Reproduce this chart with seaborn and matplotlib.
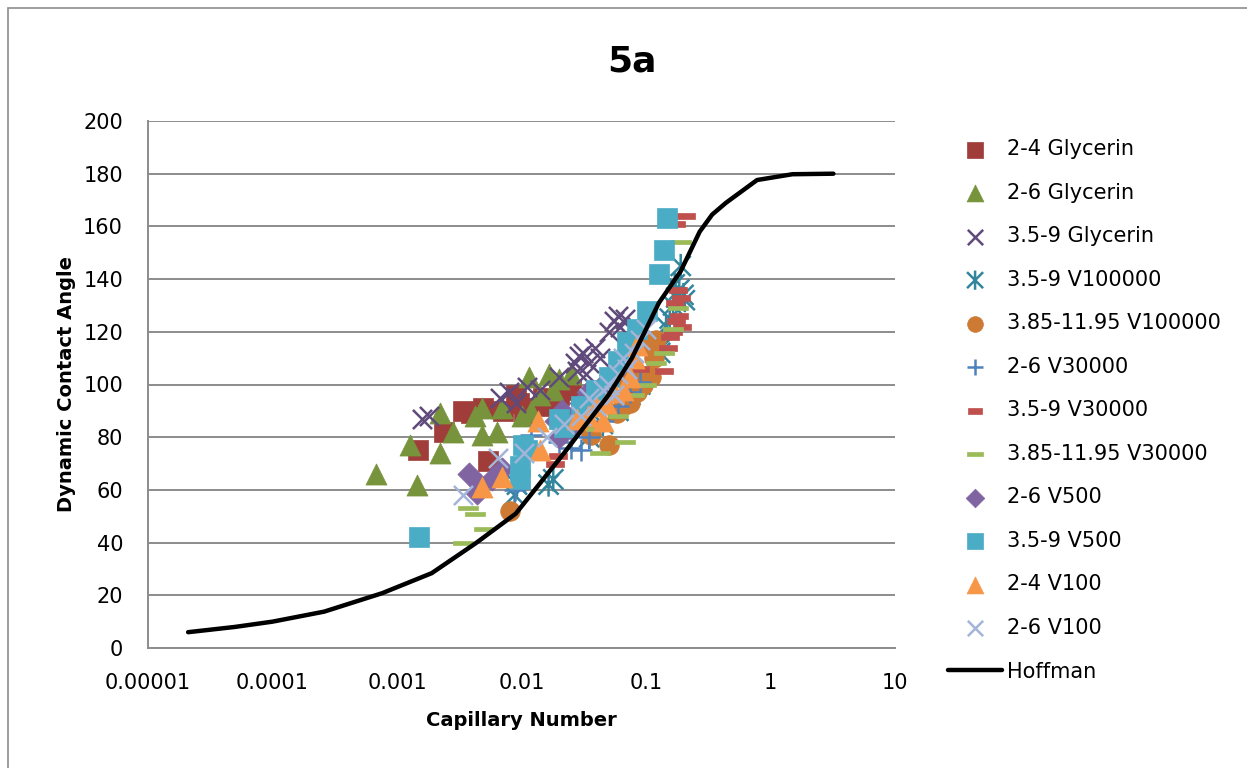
import numpy as np
import pandas as pd
import matplotlib
matplotlib.use("Agg")
import matplotlib.pyplot as plt
from matplotlib.path import Path
from matplotlib.patches import Rectangle
import seaborn as sns

# ---------------- data ----------------
title = "5a"
x_label = "Capillary Number"
y_label = "Dynamic Contact Angle"
x_ticks = [1e-5, 1e-4, 1e-3, 1e-2, 1e-1, 1, 10]
x_tick_labels = ["0.00001", "0.0001", "0.001", "0.01", "0.1", "1", "10"]
y_ticks = [0, 20, 40, 60, 80, 100, 120, 140, 160, 180, 200]

g24_ca = [0.00148, 0.0024, 0.0034, 0.0039, 0.0049, 0.0054, 0.0071, 0.0090, 0.0095, 0.0117, 0.0150, 0.0170, 0.0200, 0.025, 0.0105]
g24_th = [75, 82, 90, 89, 91, 71, 90, 96, 93, 91, 95, 92, 96, 98, 88]

g26_ca = [0.00068, 0.00127, 0.00145, 0.0022, 0.0022, 0.0028, 0.0042, 0.0048, 0.0048, 0.0063, 0.0070, 0.0100, 0.0115, 0.012, 0.0165, 0.020, 0.025, 0.018, 0.014]
g26_th = [66, 77, 62, 89, 74, 82, 88, 81, 91, 82, 91, 88, 103, 90, 104, 102, 104, 98, 96]

g359_ca = [0.0016, 0.0018, 0.0067, 0.0080, 0.0090, 0.0110, 0.014, 0.020, 0.027, 0.029, 0.031, 0.035, 0.039, 0.043, 0.050, 0.055, 0.060, 0.068, 0.062, 0.033, 0.028]
g359_th = [87, 88, 95, 97, 93, 99, 98, 103, 108, 111, 112, 108, 114, 110, 120, 124, 126, 125, 122, 104, 105]

v359_100k_ca = [0.0088, 0.0092, 0.0165, 0.018, 0.035, 0.045, 0.060, 0.075, 0.090, 0.130, 0.140, 0.155, 0.165, 0.175, 0.185, 0.190, 0.200, 0.205, 0.170, 0.145]
v359_100k_th = [58, 62, 62, 64, 80, 85, 90, 96, 100, 112, 115, 125, 130, 133, 136, 145, 134, 132, 138, 122]

v385_100k_ca = [0.0081, 0.036, 0.050, 0.058, 0.065, 0.075, 0.085, 0.095, 0.110, 0.115, 0.120, 0.070, 0.080, 0.105]
v385_100k_th = [52, 81, 77, 89, 92, 93, 97, 100, 103, 110, 117, 102, 106, 115]

v26_30k_ca = [0.0088, 0.0090, 0.012, 0.020, 0.025, 0.030, 0.035, 0.045, 0.060, 0.075, 0.090]
v26_30k_th = [60, 65, 81, 78, 76, 75, 80, 86, 92, 97, 101]

v359_30k_ca = [0.0185, 0.0195, 0.040, 0.065, 0.090, 0.140, 0.150, 0.165, 0.175, 0.185, 0.195, 0.170, 0.180, 0.190, 0.175, 0.210, 0.155]
v359_30k_th = [70, 73, 85, 96, 106, 105, 114, 120, 124, 126, 122, 131, 136, 133, 161, 164, 118]

v385_30k_ca = [0.0037, 0.0042, 0.0050, 0.0034, 0.040, 0.043, 0.068, 0.060, 0.080, 0.100, 0.120, 0.165, 0.180, 0.190, 0.140]
v385_30k_th = [53, 51, 45, 40, 83, 74, 78, 88, 96, 100, 108, 121, 129, 154, 112]

v26_500_ca = [0.0038, 0.0044, 0.0046, 0.0058, 0.0070, 0.019, 0.021, 0.030, 0.034, 0.045, 0.054, 0.065, 0.020, 0.025]
v26_500_th = [66, 59, 62, 64, 68, 86, 90, 93, 97, 100, 104, 108, 80, 84]

v359_500_ca = [0.0015, 0.0098, 0.0098, 0.0103, 0.011, 0.020, 0.022, 0.030, 0.040, 0.050, 0.060, 0.070, 0.085, 0.102, 0.127, 0.140, 0.148]
v359_500_th = [42, 64, 69, 77, 75, 87, 84, 92, 98, 103, 109, 116, 121, 128, 142, 151, 163]

v24_100_ca = [0.0048, 0.0070, 0.0135, 0.014, 0.028, 0.034, 0.040, 0.048, 0.055, 0.065, 0.075, 0.080, 0.085, 0.045]
v24_100_th = [61, 65, 86, 75, 87, 88, 92, 93, 97, 98, 103, 110, 115, 86]

v26_100_ca = [0.0034, 0.0065, 0.0105, 0.016, 0.022, 0.030, 0.035, 0.040, 0.045, 0.050, 0.060, 0.070, 0.080, 0.090, 0.100, 0.055, 0.065]
v26_100_th = [58, 72, 74, 80, 85, 88, 95, 92, 98, 100, 104, 106, 112, 117, 121, 96, 110]

hoff_ca = [2.1e-5, 5e-5, 1e-4, 2.6e-4, 7.6e-4, 1.9e-3, 4.3e-3, 9e-3, 2.2e-2, 5e-2, 7.7e-2, 0.127, 0.19, 0.27, 0.34, 0.44, 0.78, 1.5, 3.2]
hoff_th = [6, 8, 10, 13.8, 20.8, 28.4, 39.8, 51, 74, 96, 110, 131, 143, 158, 164.5, 169, 177.6, 179.8, 180]

# ---------------- styles ----------------
asterisk = Path([(-0.5, -0.5), (0.5, 0.5), (-0.5, 0.5), (0.5, -0.5), (0, -0.6), (0, 0.6)],
                [Path.MOVETO, Path.LINETO, Path.MOVETO, Path.LINETO, Path.MOVETO, Path.LINETO])
short_dash = [(-0.55, -0.2), (0.55, -0.2), (0.55, 0.2), (-0.55, 0.2), (-0.55, -0.2)]
long_dash = [(-0.75, -0.17), (0.75, -0.17), (0.75, 0.17), (-0.75, 0.17), (-0.75, -0.17)]

series = [
    ("2-4 Glycerin", g24_ca, g24_th, "#A03D3A", "s", 190, "filled"),
    ("2-6 Glycerin", g26_ca, g26_th, "#77933C", "^", 230, "filled"),
    ("3.5-9 Glycerin", g359_ca, g359_th, "#604A7B", "x", 190, "line"),
    ("3.5-9 V100000", v359_100k_ca, v359_100k_th, "#31859C", asterisk, 300, "path"),
    ("3.85-11.95 V100000", v385_100k_ca, v385_100k_th, "#CD7A34", "o", 200, "filled"),
    ("2-6 V30000", v26_30k_ca, v26_30k_th, "#4F81BD", "+", 230, "line"),
    ("3.5-9 V30000", v359_30k_ca, v359_30k_th, "#C0504D", short_dash, 170, "filled"),
    ("3.85-11.95 V30000", v385_30k_ca, v385_30k_th, "#9BBB59", long_dash, 190, "filled"),
    ("2-6 V500", v26_500_ca, v26_500_th, "#8064A2", "D", 140, "filled"),
    ("3.5-9 V500", v359_500_ca, v359_500_th, "#4BACC6", "s", 190, "filled"),
    ("2-4 V100", v24_100_ca, v24_100_th, "#F79646", "^", 230, "filled"),
    ("2-6 V100", v26_100_ca, v26_100_th, "#A3B5D8", "x", 190, "line"),
]

sns.set_theme(style="white")
plt.rcParams["font.family"] = ["DejaVu Sans"]
plt.rcParams["text.color"] = "black"
plt.rcParams["axes.labelcolor"] = "black"

fig = plt.figure(figsize=(12.47, 7.68), dpi=100)
ax = fig.add_axes([148 / 1247, 1 - 648 / 768, (895 - 148) / 1247, (648 - 121) / 768])
ax.set_xscale("log")

for name, xs, ys, col, mk, sz, kind in series:
    df = pd.DataFrame({"ca": xs, "theta": ys})
    if kind == "filled":
        sns.scatterplot(data=df, x="ca", y="theta", ax=ax, color=col, marker=mk, s=sz,
                        edgecolor=col, linewidth=0.5, label=name, zorder=3)
    elif kind == "path":
        sns.scatterplot(data=df, x="ca", y="theta", ax=ax, color=col, marker=mk, s=sz,
                        edgecolor=col, facecolor="none", linewidth=1.8, label=name, zorder=3)
    else:
        sns.scatterplot(data=df, x="ca", y="theta", ax=ax, color=col, marker=mk, s=sz,
                        linewidth=1.8, label=name, zorder=3)

hdf = pd.DataFrame({"ca": hoff_ca, "theta": hoff_th})
sns.lineplot(data=hdf, x="ca", y="theta", ax=ax, color="black", linewidth=3.2,
             sort=False, label="Hoffman", zorder=4)

ax.set_xlim(1e-5, 10)
ax.set_ylim(0, 200)
ax.set_xticks(x_ticks)
ax.set_xticklabels(x_tick_labels)
ax.xaxis.set_minor_locator(matplotlib.ticker.NullLocator())
ax.set_yticks(y_ticks)
ax.yaxis.grid(True, color="#8C8C8C", linewidth=1.4)
ax.xaxis.grid(False)
ax.set_axisbelow(True)
for sp in ["top", "right"]:
    ax.spines[sp].set_visible(False)
for sp in ["left", "bottom"]:
    ax.spines[sp].set_color("#8C8C8C")
    ax.spines[sp].set_linewidth(1.4)
ax.tick_params(axis="x", which="major", direction="out", length=6, width=1.2,
               color="#8C8C8C", labelsize=15, pad=12, labelcolor="black")
ax.tick_params(axis="y", which="major", length=0, labelsize=15, pad=18, labelcolor="black")

ax.set_xlabel(x_label, fontsize=14, fontweight="bold", labelpad=13, color="black")
ax.set_ylabel(y_label, fontsize=14, fontweight="bold", labelpad=5, color="black")
fig.text(632 / 1247, 1 - 62 / 768, title, fontsize=26, fontweight="bold",
         ha="center", va="center", color="black")

handles, labels = ax.get_legend_handles_labels()
ax.get_legend().remove()
leg = fig.legend(handles, labels, loc="upper left", bbox_to_anchor=(948 / 1247, 1 - 139 / 768),
                 frameon=False, fontsize=15, labelspacing=1.13, handlelength=2.6,
                 handletextpad=0.25, borderpad=0, borderaxespad=0, markerscale=0.8)
for t in leg.get_texts():
    t.set_color("black")

fig.patches.append(Rectangle((8 / 1247, -0.05), 1.2, 1 - 8 / 768 + 0.05,
                             transform=fig.transFigure, fill=False,
                             edgecolor="#8C8C8C", linewidth=1.2))

fig.savefig("out.png", dpi=100)
